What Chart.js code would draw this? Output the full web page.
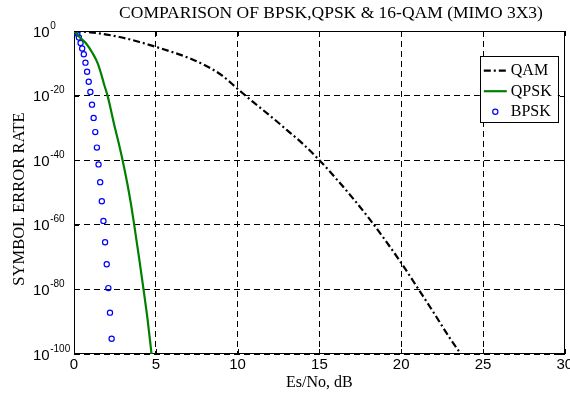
<!DOCTYPE html>
<html><head><meta charset="utf-8">
<script src="https://cdn.jsdelivr.net/npm/chart.js@4.4.1/dist/chart.umd.min.js"></script>
<style>html,body{margin:0;padding:0;background:#fff}</style>
</head><body>
<canvas id="c" width="570" height="394"></canvas>
<script>
// ---- data (x in dB, y as log10 of SER) ----
const snrQAM = [0,1,2,3,4,5,6,7,8,9,10,11,12,13,14,15,16,17,18,19,20,21,22,23,23.65];
const logSerQAM = [0,-0.4,-1.1,-2.1,-3.4,-4.9,-6.5,-8.3,-10.6,-13.6,-17.9,-22.2,-26.3,-30.6,-35.0,-40.0,-45.6,-51.5,-57.8,-64.6,-71.8,-79.5,-87.3,-95.3,-100];

const snrQPSK = [0,0.32,0.73,1.14,1.45,1.65,1.85,2.05,2.26,2.46,2.66,2.97,3.27,3.48,3.68,3.98,4.25,4.49,4.74];
const logSerQPSK = [0,-1.8,-3.8,-6.9,-10.0,-13.1,-16.7,-20.0,-24.5,-29.1,-33.2,-40.0,-47.5,-53.5,-60.0,-70.3,-80.0,-89.0,-100];

const snrBPSK = [0,0.1,0.2,0.3,0.4,0.5,0.6,0.7,0.8,0.9,1.0,1.1,1.2,1.3,1.4,1.5,1.6,1.7,1.8,1.9,2.0,2.1,2.2,2.3];
const logSerBPSK = [0,-0.3,-0.8,-2.0,-3.7,-5.4,-7.2,-9.8,-12.6,-15.7,-18.9,-22.8,-26.9,-31.3,-36.1,-41.3,-46.8,-52.7,-58.8,-65.4,-72.2,-79.6,-87.2,-95.3];

const xTicks = [0,5,10,15,20,25,30];
const yTickExps = [0,-20,-40,-60,-80,-100];
const titleText = 'COMPARISON OF BPSK,QPSK & 16-QAM (MIMO 3X3)';
const xTitle = 'Es/No, dB';
const yTitle = 'SYMBOL ERROR RATE';
const seriesNames = ['QAM','QPSK','BPSK'];

const pow10 = e => Math.pow(10, e);
const pts = (xs, ls) => xs.map((x,i)=>({x:x, y:pow10(ls[i])}));

const SERIF = '"Liberation Serif", "Times New Roman", serif';
const SANS = '"Liberation Sans", Arial, sans-serif';

const bgPlugin = {
  id:'bg',
  beforeDraw(chart){ const c=chart.ctx; c.save(); c.fillStyle='#fff'; c.fillRect(0,0,chart.width,chart.height); c.restore(); }
};

const framePlugin = {
  id:'frame',
  beforeDatasetsDraw(chart){
    const c=chart.ctx, a=chart.chartArea, xs=chart.scales.x, ys=chart.scales.y;
    c.save();
    c.strokeStyle='#000'; c.lineWidth=1; c.setLineDash([]);
    c.strokeRect(Math.round(a.left)+0.5, Math.round(a.top)+0.5, Math.round(a.right-a.left)-1, Math.round(a.bottom-a.top)-1);
    c.beginPath();
    xTicks.forEach(v=>{ const px=Math.round(xs.getPixelForValue(v))+0.5;
      c.moveTo(px,a.bottom); c.lineTo(px,a.bottom-5);
      c.moveTo(px,a.top); c.lineTo(px,a.top+5); });
    yTickExps.forEach(e=>{ const py=Math.round(ys.getPixelForValue(pow10(e)))+0.5;
      c.moveTo(a.left,py); c.lineTo(a.left+5,py);
      c.moveTo(a.right,py); c.lineTo(a.right-5,py); });
    c.stroke();
    c.restore();
  }
};

const textPlugin = {
  id:'texts',
  afterDraw(chart){
    const c=chart.ctx, a=chart.chartArea, ys=chart.scales.y;
    c.save();
    c.fillStyle='#000';
    // main title
    c.font = '17.5px ' + SERIF; c.textAlign='center'; c.textBaseline='middle';
    c.fillText(titleText, 331, 13);
    // y axis title
    c.save();
    c.translate(20, 199); c.rotate(-Math.PI/2);
    c.font = '16.5px ' + SERIF; c.textAlign='center'; c.textBaseline='middle';
    c.fillText(yTitle, 0, 0);
    c.restore();
    // y tick labels with superscript exponents
    c.textAlign='left'; c.textBaseline='alphabetic';
    yTickExps.forEach(e=>{
      const py = ys.getPixelForValue(pow10(e));
      c.font = '15px ' + SANS;
      c.fillText('10', 33, py+5.5);
      const w = c.measureText('10').width;
      c.font = '10px ' + SANS;
      c.fillText(String(e), 33+w+0.5, py-2.5);
    });
    // legend
    const bx = a.right-85, by = a.top+25, bw = 78, bh = 66;
    c.fillStyle='#fff'; c.fillRect(bx,by,bw,bh);
    c.strokeStyle='#000'; c.lineWidth=1; c.setLineDash([]);
    c.strokeRect(Math.round(bx)+0.5, Math.round(by)+0.5, bw, bh);
    const ds = chart.data.datasets;
    c.font = '16px ' + SERIF; c.textBaseline='middle'; c.textAlign='left'; c.fillStyle='#000';
    ds.forEach((d,i)=>{
      const y = by + 14.7 + i*20.5;
      const x0 = bx+4, x1 = bx+27;
      if (d.showLine === false) {
        c.beginPath(); c.setLineDash([]); c.lineWidth=d.pointBorderWidth; c.strokeStyle=d.pointBorderColor;
        c.arc((x0+x1)/2, y, d.pointRadius, 0, Math.PI*2); c.stroke();
      } else {
        c.beginPath(); c.setLineDash(d.borderDash||[]); c.lineWidth=d.borderWidth; c.strokeStyle=d.borderColor;
        c.moveTo(x0,y); c.lineTo(x1,y); c.stroke();
      }
      c.setLineDash([]); c.fillStyle='#000';
      c.fillText(d.label, bx+31, y+0.5);
    });
    c.restore();
  }
};

new Chart(document.getElementById('c'), {
  type:'line',
  data:{ datasets:[
    { label:seriesNames[0], data:pts(snrQAM, logSerQAM), borderColor:'#000', borderWidth:2.2,
      borderDash:[7,3,2,3], pointRadius:0, fill:false, cubicInterpolationMode:'monotone' },
    { label:seriesNames[1], data:pts(snrQPSK, logSerQPSK), borderColor:'#008000', borderWidth:2.2,
      pointRadius:0, fill:false, cubicInterpolationMode:'monotone' },
    { label:seriesNames[2], data:pts(snrBPSK, logSerBPSK), showLine:false, pointRadius:2.6,
      pointBorderWidth:1.2, pointBorderColor:'#0000ff', pointBackgroundColor:'rgba(0,0,0,0)',
      borderColor:'#0000ff', pointStyle:'circle' }
  ]},
  options:{
    responsive:false, animation:false, devicePixelRatio:1,
    layout:{ padding:{ left:0, right:4, top:31, bottom:0 } },
    plugins:{ legend:{display:false}, tooltip:{enabled:false}, title:{display:false} },
    scales:{
      x:{ type:'linear', min:0, max:30, position:'bottom',
        afterBuildTicks(s){ s.ticks = xTicks.map(v=>({value:v})); },
        ticks:{ font:{family:SANS, size:15}, color:'#000', padding:2, maxRotation:0, autoSkip:false },
        grid:{ color:'#000', lineWidth:1, drawTicks:false },
        border:{ display:false, dash:[6,4] },
        title:{ display:true, text:xTitle, color:'#000', font:{family:SERIF, size:16}, padding:{top:0,bottom:2} },
        afterFit(s){ s.height = 40; s.paddingLeft = 0; s.paddingRight = 0; }
      },
      y:{ type:'logarithmic', min:1e-100, max:1, position:'left',
        afterBuildTicks(s){ s.ticks = yTickExps.map(e=>({value:pow10(e)})); },
        ticks:{ display:false },
        grid:{ color:'#000', lineWidth:1, drawTicks:false },
        border:{ display:false, dash:[6,4] },
        title:{ display:false },
        afterFit(s){ s.width = 74; s.paddingTop = 0; s.paddingBottom = 0; }
      }
    }
  },
  plugins:[bgPlugin, framePlugin, textPlugin]
});
</script>
</body></html>
